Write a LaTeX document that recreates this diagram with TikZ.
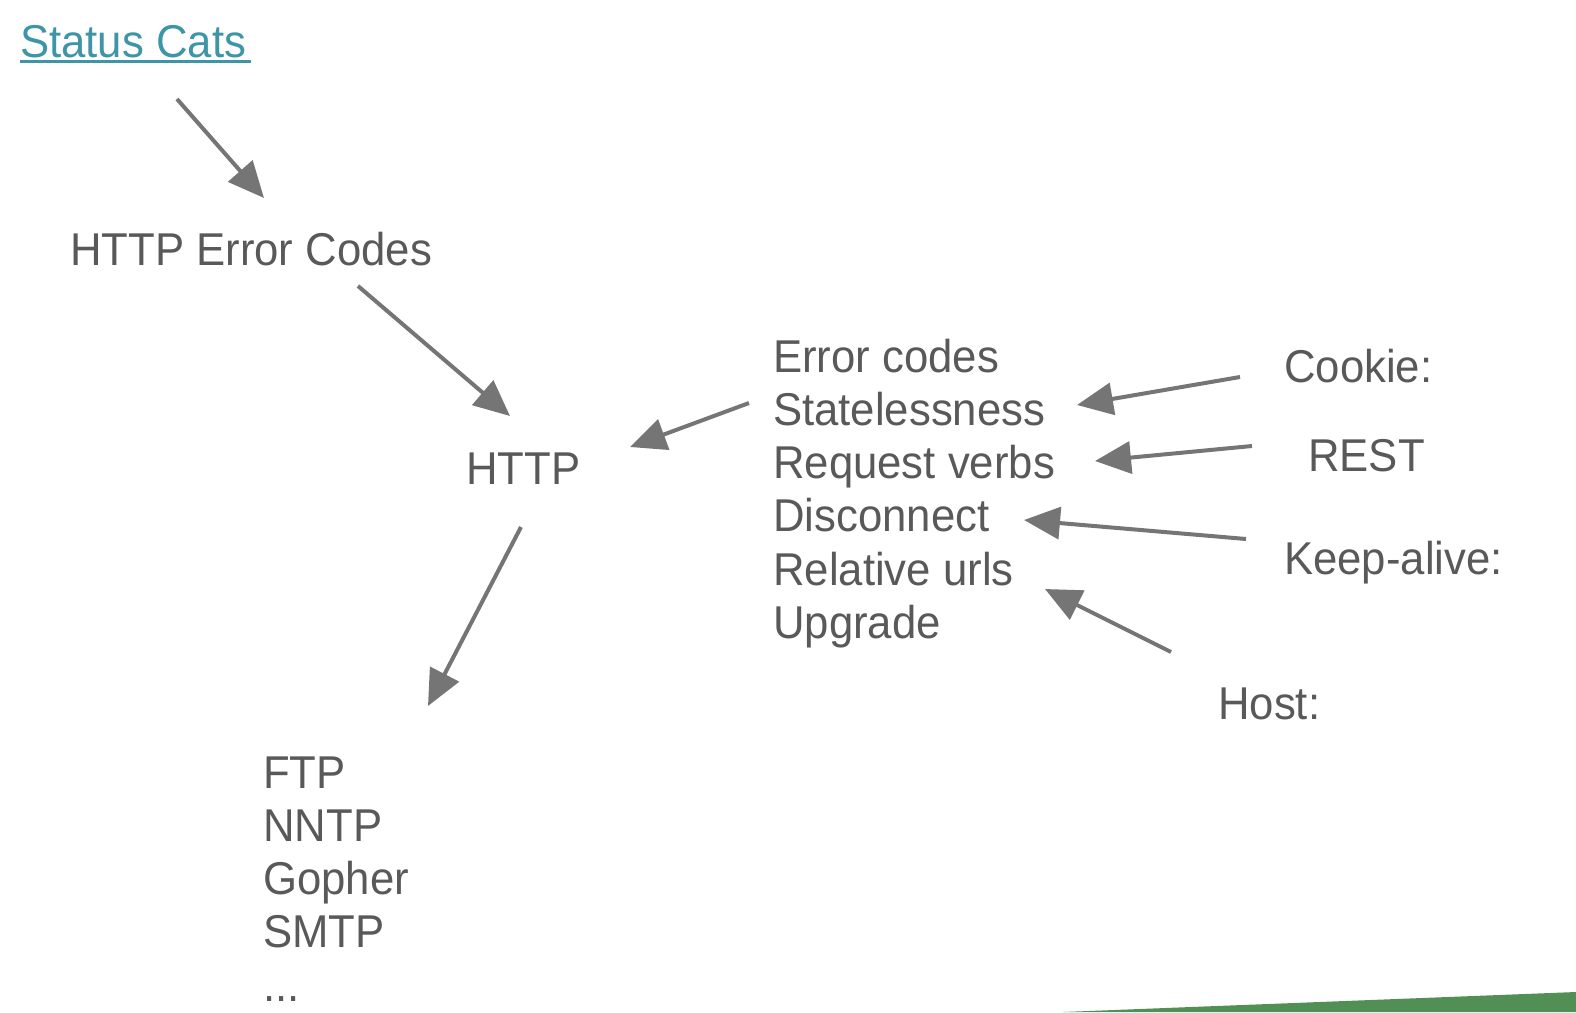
\documentclass[tikz,border=0pt]{standalone}
\usepackage{fontspec}
\setmainfont[FakeStretch=0.95]{Liberation Sans}
\usetikzlibrary{arrows.meta}
\definecolor{txt}{HTML}{595959}
\definecolor{arr}{HTML}{757575}
\definecolor{link}{HTML}{3E95A6}
\definecolor{grn}{HTML}{518F55}
\tikzset{
  lbl/.style={anchor=base west, inner sep=0pt, text=txt, font=\fontsize{46}{53}\selectfont},
  conn/.style={draw=arr, line width=4pt, -{Triangle[length=36pt,width=32pt]}}
}
\begin{document}
\begin{tikzpicture}[x=1pt,y=-1pt]
\useasboundingbox (0,0) rectangle (1576,1012);
\fill[grn] (1063,1012) -- (1576,992) -- (1576,1012) -- cycle;
% texts
\node[lbl, text=link] (cats) at (20,57) {Status Cats};
\draw[link, line width=3pt] (20,61) -- (251,61);
\node[lbl] (hec) at (70,265) {HTTP Error Codes};
\node[lbl] (http) at (466,484) {HTTP};
\node[lbl] (l1) at (773,372) {Error codes};
\node[lbl] (l2) at (773,425) {Statelessness};
\node[lbl] (l3) at (773,478) {Request verbs};
\node[lbl] (l4) at (773,531) {Disconnect};
\node[lbl] (l5) at (773,585) {Relative urls};
\node[lbl] (l6) at (773,638) {Upgrade};
\node[lbl] (cookie) at (1284,382) {Cookie:};
\node[lbl] (rest) at (1308,471) {REST};
\node[lbl] (keep) at (1284,574) {Keep-alive:};
\node[lbl] (host) at (1218,719) {Host:};
\node[lbl] (p1) at (263,788) {FTP};
\node[lbl] (p2) at (263,841) {NNTP};
\node[lbl] (p3) at (263,894) {Gopher};
\node[lbl] (p4) at (263,947) {SMTP};
\node[lbl] (p5) at (263,1001) {...};
% connector ends
\coordinate (a1s) at (177,99);   \coordinate (a1e) at (264,198);
\coordinate (a2s) at (358,286);  \coordinate (a2e) at (510,416);
\coordinate (a3s) at (749,403);  \coordinate (a3e) at (630,447);
\coordinate (a4s) at (521,527);  \coordinate (a4e) at (428,706);
\coordinate (a5s) at (1240,377); \coordinate (a5e) at (1077,405);
\coordinate (a6s) at (1252,446); \coordinate (a6e) at (1095,461);
\coordinate (a7s) at (1246,539); \coordinate (a7e) at (1024,520);
\coordinate (a8s) at (1171,652); \coordinate (a8e) at (1045,589);
\draw[conn] (a1s) -- (a1e);
\draw[conn] (a2s) -- (a2e);
\draw[conn] (a3s) -- (a3e);
\draw[conn] (a4s) -- (a4e);
\draw[conn] (a5s) -- (a5e);
\draw[conn] (a6s) -- (a6e);
\draw[conn] (a7s) -- (a7e);
\draw[conn] (a8s) -- (a8e);
\end{tikzpicture}
\end{document}
